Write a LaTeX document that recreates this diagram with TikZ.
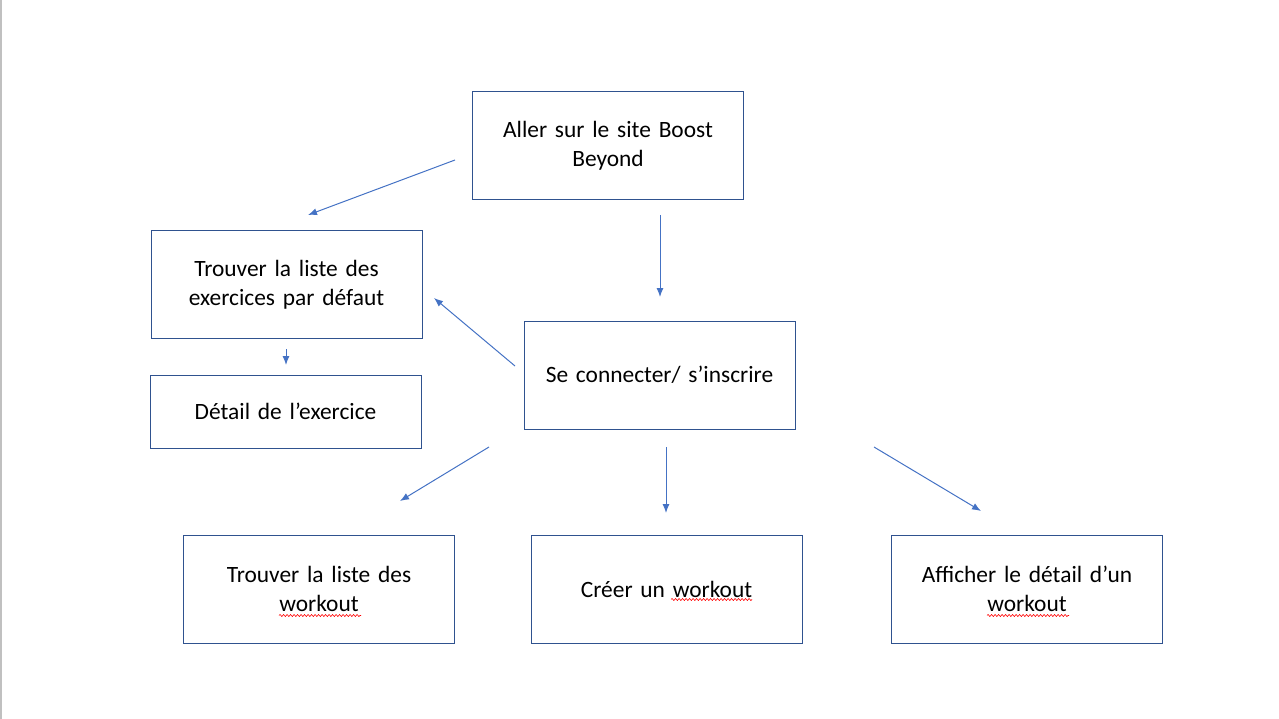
\documentclass[tikz,border=0pt]{standalone}
\usepackage{fontspec}
\setmainfont{Carlito}
\usepackage{tikz}
\usetikzlibrary{arrows.meta,decorations.pathmorphing}
\definecolor{boxline}{HTML}{2F528F}
\definecolor{flowblue}{HTML}{4472C4}
\definecolor{edgegray}{HTML}{C0C0C0}
\newcommand{\BoxFont}{\fontsize{23.4}{29}\selectfont}

\begin{document}
\begin{tikzpicture}[x=1pt,y=-1pt,
    stepbox/.style={draw=boxline,line width=1pt,minimum width=271pt,minimum height=108pt,
      text width=250pt,align=center,font=\BoxFont,inner sep=0pt},
    flow/.style={-{Latex[length=9pt,width=7pt]},flowblue,line width=1pt},
    spell/.style={red,line width=0.6pt,decorate,decoration={snake,amplitude=1pt,segment length=3.5pt}}]
  \useasboundingbox (0,0) rectangle (1279,719);
  \draw[edgegray,line width=1.5pt] (0.75,0) -- (0.75,719);
  % boxes
  \node[stepbox] (site) at (608,146) {Aller sur le site Boost\\Beyond};
  \node[stepbox] (exlist) at (286.5,284.5) {Trouver la liste des\\exercices par défaut};
  \node[stepbox,minimum height=73pt] (exdetail) at (285.5,411.5) {Détail de l’exercice};
  \node[stepbox] (login) at (659.5,375) {Se connecter/ s’inscrire};
  \node[stepbox] (wolist) at (319,589) {Trouver la liste des\\workout};
  \node[stepbox] (wonew) at (666.5,589) {Créer un workout};
  \node[stepbox] (wodetail) at (1027,589) {Afficher le détail d’un\\workout};
  % spell-check marks
  \draw[spell] (279,615.5) -- (361,615.5);
  \draw[spell] (671,599.5) -- (752,599.5);
  \draw[spell] (987,615.5) -- (1069,615.5);
  % arrow ends
  \coordinate (siteL) at (455,160);   \coordinate (exlistT) at (308,215);
  \coordinate (siteB) at (660,215);   \coordinate (loginT) at (660,297);
  \coordinate (loginL) at (515,366);  \coordinate (exlistR) at (434,298);
  \coordinate (exlistB) at (286,349); \coordinate (exdetailT) at (286,365);
  \coordinate (loginBL) at (489,447); \coordinate (wolistT) at (400,501);
  \coordinate (loginB) at (666,447);  \coordinate (wonewT) at (666,513);
  \coordinate (loginBR) at (874,447); \coordinate (wodetailT) at (981,511);
  % arrows
  \draw[flow] (siteL) -- (exlistT);
  \draw[flow] (siteB) -- (loginT);
  \draw[flow] (loginL) -- (exlistR);
  \draw[flow] (exlistB) -- (exdetailT);
  \draw[flow] (loginBL) -- (wolistT);
  \draw[flow] (loginB) -- (wonewT);
  \draw[flow] (loginBR) -- (wodetailT);
\end{tikzpicture}
\end{document}
